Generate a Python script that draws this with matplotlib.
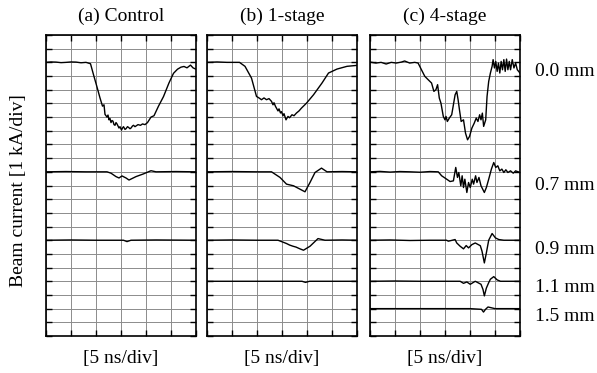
import numpy as np
import matplotlib
matplotlib.use('Agg')
import matplotlib.pyplot as plt

plt.rcParams['font.family'] = ['Liberation Serif', 'DejaVu Serif']

# 各パネルのタイトルと波形ラベル
titles = ['(a) Control', '(b) 1-stage', '(c) 4-stage']
gap_labels = ['0.0 mm', '0.7 mm', '0.9 mm', '1.1 mm', '1.5 mm']
# 各波形のベースライン (div, 下端=0)
baselines = [20, 12, 7, 4, 2]

# 波形データ: 時間 [ns], ベースラインからの電流 [kA]
# (a) Control
a00_t = [0, 1, 2, 3, 4, 5, 6, 7, 8, 8.9, 9.5, 10.2, 10.8, 11.3, 11.6, 11.8, 12.2, 12.4, 12.6, 12.8,
         13.0, 13.2, 13.4, 13.6, 13.8, 14.0, 14.2, 14.4, 14.6, 14.8, 15.1, 15.3, 15.5, 15.8, 16.0,
         16.3, 16.5, 16.8, 17.0, 17.3, 17.5, 17.8, 18.0, 18.4, 18.9, 19.3, 19.8, 20.3, 21.0, 21.6,
         22.5, 23.5, 24.6, 25.5, 26.3, 27.0, 27.6, 28.2, 28.9, 29.4, 30]
a00_v = [0, 0.03, 0.02, -0.02, 0, 0.03, 0.02, -0.03, 0, -0.1, -0.9, -1.8, -2.6, -3.2, -3.1, -3.8,
         -4.0, -3.85, -4.2, -4.1, -4.4, -4.25, -4.3, -4.55, -4.6, -4.4, -4.5, -4.65, -4.8, -4.7,
         -4.95, -4.8, -4.7, -4.9, -4.85, -4.7, -4.75, -4.85, -4.8, -4.65, -4.6, -4.7, -4.65, -4.55,
         -4.6, -4.5, -4.55, -4.4, -4.0, -3.9, -3.2, -2.5, -1.5, -0.8, -0.5, -0.35, -0.3, -0.4, -0.2,
         -0.4, -0.5]
a07_t = [0, 4, 8, 12.2, 13.0, 14.0, 14.6, 15.2, 16.0, 16.6, 18.0, 19.5, 21.0, 22.0, 26, 30]
a07_v = [0, 0.02, 0, 0, -0.1, -0.35, -0.45, -0.3, -0.45, -0.6, -0.35, -0.15, 0.08, 0, 0.02, 0]
a09_t = [0, 5, 10, 15.5, 16.2, 17.0, 22, 30]
a09_v = [0, 0.02, 0, 0, -0.1, 0, 0.02, 0]

# (b) 1-stage
b00_t = [0, 2, 4, 6.5, 7.6, 8.9, 9.9, 10.4, 10.9, 11.4, 11.9, 12.4, 12.9, 13.2, 13.4, 13.7, 13.9,
         14.2, 14.4, 14.7, 14.9, 15.2, 15.4, 15.8, 16.2, 16.5, 17.0, 17.4, 17.9, 18.4, 18.9, 19.9,
         21.3, 23.0, 24.3, 26.0, 28.0, 30]
b00_v = [0, 0.03, 0, 0, -0.29, -1.15, -2.49, -2.6, -2.73, -2.6, -2.73, -2.65, -2.85, -3.1, -2.95,
         -3.22, -3.35, -3.55, -3.4, -3.7, -3.6, -3.9, -3.75, -4.2, -3.95, -4.05, -3.83, -3.9, -3.7,
         -3.55, -3.34, -2.98, -2.37, -1.51, -0.78, -0.49, -0.29, -0.22]
b07_t = [0, 5, 10, 12.9, 14.6, 15.9, 17.3, 18.6, 19.6, 20.6, 21.6, 22.9, 24.0, 27, 30]
b07_v = [0, 0.02, 0, 0, -0.41, -0.9, -1.02, -1.27, -1.46, -0.78, -0.05, 0.27, 0, 0.02, 0]
b09_t = [0, 5, 10, 14.2, 15.9, 16.5, 17.2, 17.8, 18.6, 19.3, 20.6, 22.2, 23.6, 27, 30]
b09_v = [0, 0.02, 0, 0, -0.24, -0.35, -0.44, -0.5, -0.63, -0.73, -0.44, 0.12, 0, 0.02, 0]
b11_t = [0, 10, 19.0, 19.7, 20.5, 30]
b11_v = [0, 0, 0, -0.08, 0, 0]

# (c) 4-stage
c00_t = [0.0, 1.21, 2.22, 3.23, 4.24, 5.25, 6.26, 6.93, 7.94, 8.95, 9.62, 10.29, 10.96, 11.64, 12.31,
         12.78, 13.18, 13.52, 13.86, 14.19, 14.66, 15.0, 15.2, 15.47, 15.87, 16.34, 16.68, 17.02,
         17.35, 17.62, 17.89, 18.23, 18.7, 19.1, 19.51, 19.91, 20.38, 20.85, 21.25, 21.59, 21.93,
         22.2, 22.47, 22.73, 23.14, 23.41, 23.74, 24.08, 24.42, 24.62, 24.89, 25.15, 25.43, 25.69,
         25.96, 26.23, 26.5, 26.77, 27.04, 27.31, 27.58, 27.85, 28.11, 28.45, 28.79, 29.12, 29.46, 30.0]
c00_v = [0.02, -0.05, 0, -0.12, 0, -0.05, 0.02, 0.1, -0.05, 0, -0.05, -0.54, -1.02, -1.27, -1.51,
         -2.12, -2.0, -1.63, -2.61, -2.98, -3.95, -4.2, -3.95, -4.32, -4.07, -3.83, -3.1, -2.37,
         -2.12, -2.73, -3.46, -4.32, -4.2, -5.17, -5.66, -5.41, -4.8, -4.44, -4.07, -4.32, -3.83,
         -4.2, -3.71, -4.68, -4.2, -2.49, -1.39, -0.78, -0.29, 0.2, -0.41, 0.07, -0.66, -0.05,
         -0.78, 0.07, -0.54, 0.2, -0.66, 0.24, -0.54, 0.07, -0.54, 0.2, -0.41, -0.05, -0.54, -0.78]
c07_t = [0, 2, 4, 6, 8, 10, 12, 13.65, 14.33, 15.34, 16.01, 16.68, 17.15, 17.49, 17.76, 18.16, 18.43,
         18.7, 18.97, 19.37, 19.71, 20.05, 20.45, 20.72, 21.12, 21.39, 21.79, 22.2, 22.87, 23.27,
         23.74, 24.28, 24.75, 25.15, 25.56, 25.96, 26.37, 26.77, 27.17, 27.58, 28.11, 28.65, 29.12, 30]
c07_v = [0, 0.03, -0.02, 0.02, 0, -0.03, 0.02, 0, -0.29, -0.54, -0.71, -0.66, 0.32, -0.41, -0.05,
         -1.02, -0.29, -1.15, -0.54, -1.51, -0.78, -1.15, -0.54, -0.9, -0.29, -0.78, -0.41, -1.02,
         -1.51, -1.15, -0.54, 0.2, 0.68, 0.32, 0.44, 0.07, 0.2, -0.05, 0.15, -0.05, 0.07, -0.1, 0.07, -0.05]
c09_t = [0, 4, 8, 12, 15.3, 15.67, 17.02, 17.35, 18.03, 18.7, 19.24, 19.71, 20.38, 21.05, 22.06,
         22.4, 22.87, 23.27, 23.74, 24.42, 25.09, 25.76, 26.77, 30]
c09_v = [0, 0.02, -0.02, 0, 0, -0.07, 0.05, -0.2, -0.44, -0.63, -0.39, -0.56, -0.32, -0.2, -0.4,
         -0.8, -1.66, -0.93, 0, 0.49, 0.17, 0.05, 0, 0]
c11_t = [0, 5, 10, 18.03, 18.7, 19.37, 20.05, 21.05, 22.2, 22.6, 22.87, 23.27, 23.74, 24.08, 24.75,
         25.43, 26.1, 30]
c11_v = [0, 0.02, 0, 0, -0.15, -0.05, -0.22, 0, -0.22, -0.6, -1.07, -0.5, -0.1, 0.15, 0.34, 0.1, 0, 0]
c15_t = [0, 10, 20, 22.3, 22.7, 23.1, 23.6, 25, 30]
c15_v = [0, 0, 0, -0.05, -0.25, -0.05, 0.12, 0, 0]

panels = [
    [(a00_t, a00_v, 0), (a07_t, a07_v, 1), (a09_t, a09_v, 2)],
    [(b00_t, b00_v, 0), (b07_t, b07_v, 1), (b09_t, b09_v, 2), (b11_t, b11_v, 3)],
    [(c00_t, c00_v, 0), (c07_t, c07_v, 1), (c09_t, c09_v, 2), (c11_t, c11_v, 3), (c15_t, c15_v, 4)],
]

fig = plt.figure(figsize=(5.97, 3.73), dpi=100)
lefts = [46 / 597, 207 / 597, 370 / 597]
W = 150 / 597
B = 1 - 336 / 373
H = 301 / 373

for k in range(3):
    ax = fig.add_axes([lefts[k], B, W, H])
    for t, v, idx in panels[k]:
        ax.plot(t, np.array(v) + baselines[idx], color='black', lw=1.0, zorder=3)
    ax.set_xlim(0, 30)
    ax.set_ylim(0, 22)
    ax.set_xticks(np.arange(0, 31, 5))
    ax.set_yticks(np.arange(0, 23, 1))
    ax.grid(True, color='#8c8c8c', lw=0.7)
    ax.tick_params(direction='in', length=4, width=1.0, color='black',
                   left=True, right=True, top=True, bottom=True,
                   labelleft=False, labelbottom=False)
    for s in ax.spines.values():
        s.set_linewidth(1.2)
    ax.set_title(titles[k], fontsize=14, pad=10)
    ax.text(0.5, -0.075, '[5 ns/div]', transform=ax.transAxes, ha='center', va='center', fontsize=14)
    if k == 2:
        label_y = [20 - 0.7, 12 - 1.0, 7 - 0.7, 4 - 0.45, 2 - 0.6]
        for lab, yy in zip(gap_labels, label_y):
            ax.text(1.10, yy, lab, transform=ax.get_yaxis_transform(), ha='left', va='center', fontsize=14)

fig.text(19 / 597, 1 - 191 / 373, 'Beam current [1 kA/div]', rotation=90, ha='center', va='center', fontsize=14)

fig.savefig('out.png', dpi=100)
